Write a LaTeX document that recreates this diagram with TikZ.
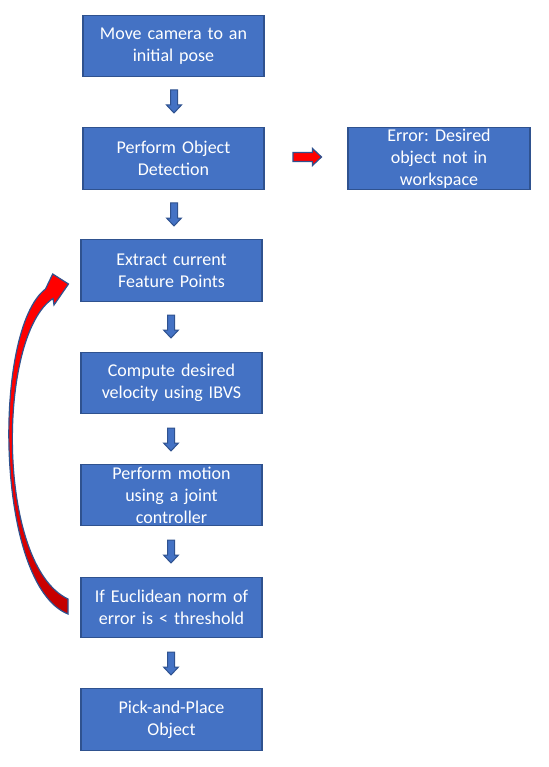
\documentclass[tikz,border=0pt]{standalone}
\usepackage{fontspec}
\setmainfont{Carlito}
\frenchspacing
\definecolor{boxfill}{HTML}{4472C4}
\definecolor{boxline}{HTML}{2F528F}
\definecolor{darkred}{HTML}{C00000}
\tikzset{
  stepbox/.style={rectangle, fill=boxfill, draw=boxline, line width=1.3pt,
    minimum width=181pt, minimum height=61pt, inner sep=0pt, text width=176pt,
    align=center, text=white, font=\fontsize{18}{22}\selectfont},
  arrfill/.style={fill=boxfill, draw=boxline, line width=1pt, line join=miter},
  redarr/.style={fill=red, draw=boxline, line width=1.2pt, line join=miter}
}
\newcommand\downarr[2]{%
  \filldraw[arrfill] (#1-3.5,#2) -- (#1+3.5,#2) -- (#1+3.5,#2+15) -- (#1+7.5,#2+15)
    -- (#1,#2+23) -- (#1-7.5,#2+15) -- (#1-3.5,#2+15) -- cycle;}
\begin{document}
\begin{tikzpicture}[x=1pt,y=-1pt]
\useasboundingbox (0,0) rectangle (548,767);
\node[stepbox] (move) at (173.5,46) {Move camera to an\\initial pose};
\node[stepbox, minimum height=62pt] (detect) at (173.5,158.5) {Perform Object\\Detection};
\node[stepbox, minimum height=62pt, minimum width=182pt] (err) at (439,158.5) {Error: Desired\\object not in\\workspace};
\node[stepbox, minimum height=62pt] (extract) at (171.5,270.5) {Extract current\\Feature Points};
\node[stepbox] (compute) at (171.5,383) {Compute desired\\velocity using IBVS};
\node[stepbox] (motion) at (171.5,495) {Perform motion\\using a joint\\controller};
\node[stepbox, minimum height=60pt] (check) at (171.5,607.5) {If Euclidean norm of\\error is < threshold};
\node[stepbox, minimum height=62pt] (pick) at (171.5,719.5) {Pick-and-Place\\Object};
% block arrows
\downarr{174}{90}
\downarr{174}{203}
\downarr{171}{315}
\downarr{171}{428}
\downarr{171}{540}
\downarr{171}{652}
% red arrow to error
\filldraw[redarr] (293,152.5) -- (312.5,152.5) -- (312.5,148.5) -- (321.5,157)
  -- (312.5,165.5) -- (312.5,161.5) -- (293,161.5) -- cycle;
% curved feedback arrow
\shadedraw[top color=red, bottom color=darkred, middle color=red, draw=boxline, line width=1.2pt, line join=miter]
  (68,614) .. controls (-5,585) and (-8,330) .. (45.5,289)
  -- (52.7,274) -- (68.5,284) -- (54,305) -- (53,298.5)
  .. controls (-3,335) and (-4,565) .. (68,599) -- cycle;
\end{tikzpicture}
\end{document}
